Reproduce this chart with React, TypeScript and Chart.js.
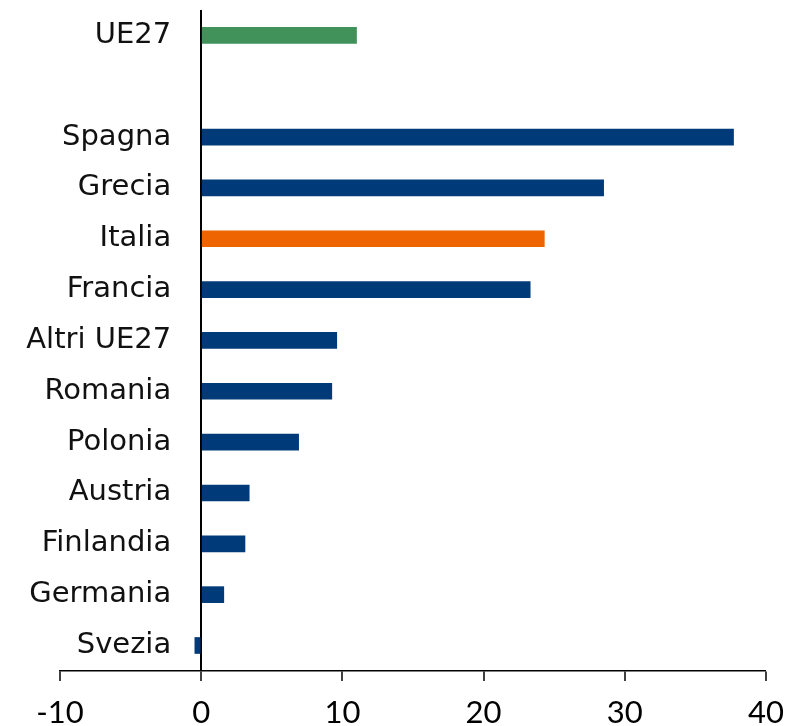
import React, { useEffect, useRef } from "react";
import { Chart, registerables } from "chart.js";

Chart.register(...registerables);

const categories = ["UE27", "", "Spagna", "Grecia", "Italia", "Francia", "Altri UE27", "Romania", "Polonia", "Austria", "Finlandia", "Germania", "Svezia"];
const values: (number | null)[] = [11.0, null, 37.7, 28.5, 24.3, 23.3, 9.6, 9.25, 6.9, 3.4, 3.1, 1.6, -0.45];
const xTicks = [-10, 0, 10, 20, 30, 40];

const BLUE = "#003A78";
const GREEN = "#40915A";
const ORANGE = "#EE6500";
const LABEL_FONT = "'DejaVu Sans', sans-serif";
const TICK_FONT = "Lato, 'DejaVu Sans', sans-serif";
// category labels sit just left of the zero line
const LABEL_ANCHOR = -2.125;

export default function App() {
  const ref = useRef<HTMLCanvasElement | null>(null);
  useEffect(() => {
    document.body.style.margin = "0";
    const colors = categories.map((c) => (c === "UE27" ? GREEN : c === "Italia" ? ORANGE : BLUE));
    const chart = new Chart(ref.current as HTMLCanvasElement, {
      type: "bar",
      data: {
        labels: categories,
        datasets: [
          {
            data: values,
            backgroundColor: colors,
            borderWidth: 0,
            barThickness: 16,
          },
        ],
      },
      options: {
        indexAxis: "y",
        animation: false,
        responsive: false,
        maintainAspectRatio: false,
        layout: { padding: { left: 60, right: 20, top: 10, bottom: -20 } },
        plugins: { legend: { display: false }, tooltip: { enabled: false } },
        scales: {
          x: {
            type: "linear",
            min: -10,
            max: 40,
            afterBuildTicks: (s: any) => {
              s.ticks = xTicks.map((v) => ({ value: v }));
            },
            grid: {
              drawOnChartArea: true,
              drawTicks: true,
              tickLength: 10,
              color: (ctx: any) => (ctx.tick && ctx.tick.value === 0 ? "#000" : "rgba(0,0,0,0)"),
              lineWidth: (ctx: any) => (ctx.tick && ctx.tick.value === 0 ? 2 : 0),
              tickColor: "#000",
              tickWidth: 1.5,
            },
            border: { display: true, color: "#000", width: 1.5 },
            ticks: { color: "#000", padding: 0, maxRotation: 0, font: { family: TICK_FONT, size: 31, lineHeight: 2.1 } },
          },
          y: {
            type: "category",
            position: { x: LABEL_ANCHOR } as any,
            grid: { display: false, drawTicks: false },
            border: { display: false },
            ticks: { color: "#111", padding: 0, font: { family: LABEL_FONT, size: 29, lineHeight: 0.65 } },
          },
        },
      },
    });
    return () => chart.destroy();
  }, []);
  return <canvas ref={ref} width={786} height={726} style={{ display: "block" }} />;
}
